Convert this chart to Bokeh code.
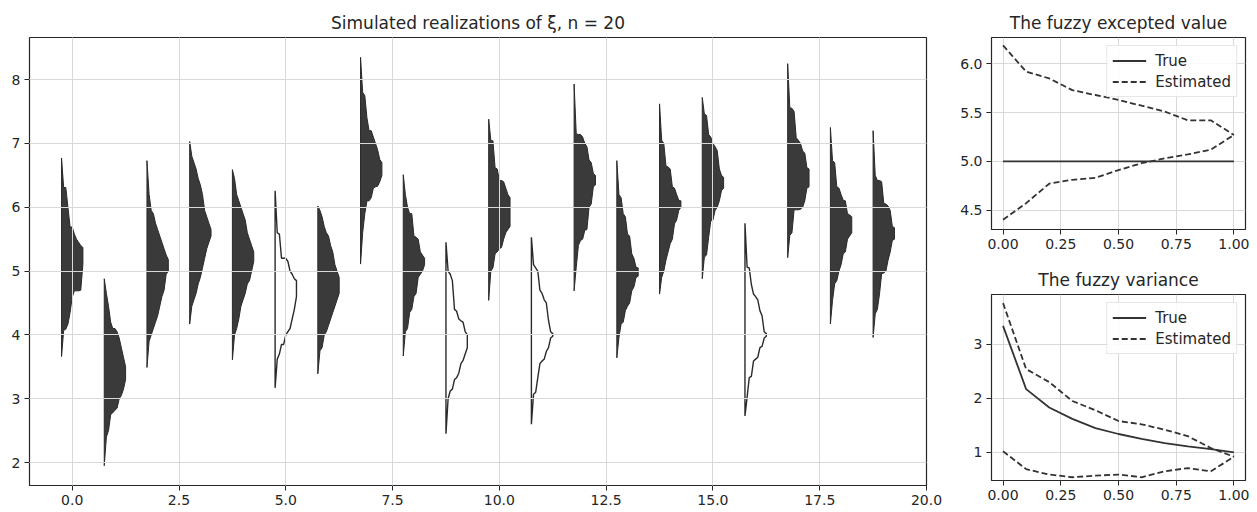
from bokeh.plotting import figure
from bokeh.layouts import row, column
from bokeh.models import Range1d, FixedTicker, Legend, LegendItem
from bokeh.embed import file_html
from bokeh.resources import INLINE

FONT = "DejaVu Sans"
INK = "#262626"
FILL = "#3a3a3a"

# ---------------- data ----------------
ALPHA = [0.0, 0.1, 0.2, 0.3, 0.4, 0.5, 0.6, 0.7, 0.8, 0.9, 1.0]

POSITIONS = [0, 1, 2, 3, 4, 5, 6, 7, 8, 9, 10, 11, 12, 13, 14, 15, 16, 17, 18, 19]
OUTLINE_ONLY = [5, 9, 11, 16]

# lower ends of the alpha-cuts of each simulated fuzzy number
LOWER = [
    [3.66, 4.07, 4.09, 4.17, 4.35, 4.59, 4.69, 4.69, 4.69, 4.70, 5.11],
    [1.95, 2.40, 2.50, 2.75, 2.78, 2.82, 2.85, 3.00, 3.05, 3.15, 3.30],
    [3.49, 3.90, 4.00, 4.10, 4.20, 4.30, 4.45, 4.60, 4.70, 4.95, 5.00],
    [4.17, 4.45, 4.55, 4.65, 4.80, 4.90, 5.05, 5.20, 5.35, 5.45, 5.55],
    [3.61, 4.00, 4.10, 4.25, 4.45, 4.55, 4.65, 4.80, 4.85, 5.00, 5.15],
    [3.17, 3.62, 3.70, 3.85, 3.85, 4.00, 4.05, 4.10, 4.25, 4.40, 4.60],
    [3.39, 3.75, 3.80, 4.00, 4.05, 4.15, 4.25, 4.35, 4.45, 4.55, 4.65],
    [5.11, 5.60, 5.90, 6.10, 6.10, 6.15, 6.30, 6.32, 6.33, 6.40, 6.50],
    [3.67, 4.05, 4.10, 4.35, 4.40, 4.60, 4.65, 4.90, 4.95, 5.00, 5.10],
    [2.45, 3.00, 3.12, 3.15, 3.30, 3.33, 3.40, 3.55, 3.60, 3.70, 3.80],
    [4.54, 5.00, 5.05, 5.27, 5.30, 5.35, 5.37, 5.50, 5.60, 5.65, 5.70],
    [2.60, 3.07, 3.10, 3.33, 3.55, 3.59, 3.62, 3.74, 3.80, 3.95, 3.98],
    [4.69, 5.06, 5.40, 5.48, 5.50, 5.64, 5.65, 6.00, 6.05, 6.32, 6.35],
    [3.64, 3.96, 4.17, 4.20, 4.38, 4.45, 4.50, 4.69, 4.75, 4.90, 4.92],
    [4.64, 4.90, 5.00, 5.17, 5.30, 5.43, 5.50, 5.74, 5.80, 5.95, 6.00],
    [4.88, 5.22, 5.25, 5.53, 5.79, 5.80, 5.95, 6.00, 6.10, 6.26, 6.30],
    [2.73, 3.02, 3.33, 3.35, 3.59, 3.62, 3.65, 3.80, 3.82, 3.95, 3.98],
    [5.21, 5.56, 5.60, 5.96, 5.96, 5.96, 5.97, 6.00, 6.10, 6.30, 6.32],
    [4.17, 4.54, 4.80, 4.85, 5.00, 5.10, 5.27, 5.30, 5.50, 5.55, 5.60],
    [3.96, 4.33, 4.40, 4.64, 4.96, 4.97, 5.00, 5.17, 5.30, 5.48, 5.50],
]
# upper ends of the alpha-cuts
UPPER = [
    [6.77, 6.31, 6.31, 6.00, 5.69, 5.69, 5.58, 5.50, 5.45, 5.40, 5.37],
    [4.88, 4.65, 4.45, 4.20, 4.10, 4.10, 4.05, 3.95, 3.80, 3.65, 3.50],
    [6.73, 6.20, 5.95, 5.90, 5.75, 5.65, 5.55, 5.45, 5.35, 5.25, 5.18],
    [7.03, 6.80, 6.70, 6.60, 6.45, 6.35, 6.20, 5.95, 5.85, 5.75, 5.65],
    [6.59, 6.45, 6.20, 6.10, 6.00, 5.90, 5.80, 5.60, 5.50, 5.40, 5.30],
    [6.26, 5.60, 5.58, 5.20, 5.20, 5.20, 5.15, 5.00, 4.95, 4.88, 4.85],
    [6.02, 5.95, 5.85, 5.70, 5.60, 5.55, 5.40, 5.30, 5.10, 5.00, 4.90],
    [8.35, 7.80, 7.75, 7.40, 7.20, 7.20, 7.10, 7.00, 6.90, 6.75, 6.70],
    [6.51, 6.20, 6.00, 5.90, 5.90, 5.55, 5.53, 5.50, 5.30, 5.25, 5.20],
    [5.45, 5.00, 4.95, 4.85, 4.40, 4.37, 4.25, 4.22, 4.20, 4.05, 4.00],
    [7.38, 7.05, 7.04, 6.62, 6.60, 6.42, 6.42, 6.40, 6.30, 6.20, 6.15],
    [5.53, 5.10, 5.05, 5.00, 4.70, 4.65, 4.55, 4.50, 4.23, 4.05, 4.02],
    [7.93, 7.15, 7.14, 7.14, 7.10, 7.00, 6.95, 6.74, 6.70, 6.53, 6.50],
    [6.73, 6.20, 6.15, 5.90, 5.85, 5.58, 5.55, 5.27, 5.20, 5.06, 5.05],
    [7.62, 7.05, 7.00, 6.65, 6.63, 6.60, 6.32, 6.30, 6.20, 6.11, 6.10],
    [7.72, 7.46, 7.44, 7.14, 7.10, 7.00, 6.95, 6.89, 6.60, 6.50, 6.47],
    [5.75, 5.06, 5.05, 4.79, 4.64, 4.60, 4.55, 4.38, 4.30, 4.05, 4.02],
    [8.25, 7.56, 7.55, 7.50, 7.09, 7.05, 7.00, 6.88, 6.85, 6.62, 6.60],
    [7.25, 6.73, 6.70, 6.32, 6.30, 6.20, 6.11, 6.10, 5.90, 5.88, 5.85],
    [7.20, 6.50, 6.42, 6.42, 6.40, 6.06, 6.05, 6.02, 5.95, 5.70, 5.68],
]

# fuzzy expected value
EV_TRUE = [5.0, 5.0, 5.0, 5.0, 5.0, 5.0, 5.0, 5.0, 5.0, 5.0, 5.0]
EV_EST_UP = [6.19, 5.92, 5.85, 5.73, 5.68, 5.63, 5.57, 5.51, 5.42, 5.42, 5.27]
EV_EST_LO = [4.40, 4.57, 4.77, 4.81, 4.83, 4.91, 4.98, 5.03, 5.07, 5.12, 5.27]

# fuzzy variance
VAR_TRUE = [3.34, 2.17, 1.83, 1.62, 1.45, 1.34, 1.25, 1.17, 1.11, 1.06, 1.00]
VAR_EST_UP = [3.76, 2.54, 2.30, 1.95, 1.78, 1.58, 1.52, 1.42, 1.30, 1.08, 0.92]
VAR_EST_LO = [1.02, 0.69, 0.59, 0.54, 0.57, 0.59, 0.54, 0.65, 0.71, 0.65, 0.92]

MAIN_XTICKS = [0, 2.5, 5, 7.5, 10, 12.5, 15, 17.5, 20]
MAIN_XLABELS = ["0.0", "2.5", "5.0", "7.5", "10.0", "12.5", "15.0", "17.5", "20.0"]
MAIN_YTICKS = [2, 3, 4, 5, 6, 7, 8]
MAIN_YLABELS = ["2", "3", "4", "5", "6", "7", "8"]
SIDE_XTICKS = [0, 0.25, 0.5, 0.75, 1.0]
SIDE_XLABELS = ["0.00", "0.25", "0.50", "0.75", "1.00"]
EV_YTICKS = [4.5, 5.0, 5.5, 6.0]
EV_YLABELS = ["4.5", "5.0", "5.5", "6.0"]
VAR_YTICKS = [1, 2, 3]
VAR_YLABELS = ["1", "2", "3"]

OFFSET = -0.25   # left edge of each fuzzy number relative to its index
HALF = 0.5       # horizontal extent for membership 1


def style(p, xticks, xlabels, yticks, ylabels, grid_level):
    p.title.text_font = FONT
    p.title.text_font_size = "17px"
    p.title.text_font_style = "normal"
    p.title.text_color = INK
    p.title.align = "center"
    p.outline_line_color = INK
    p.outline_line_width = 1.2
    p.background_fill_color = "white"
    p.border_fill_color = "white"
    for ax, ticks, labels in ((p.xaxis[0], xticks, xlabels), (p.yaxis[0], yticks, ylabels)):
        ax.ticker = FixedTicker(ticks=ticks)
        ax.major_label_overrides = {t: l for t, l in zip(ticks, labels)}
        ax.axis_line_color = None
        ax.major_tick_line_color = INK
        ax.major_tick_out = 5
        ax.major_tick_in = 0
        ax.minor_tick_line_color = None
        ax.major_label_text_font = FONT
        ax.major_label_text_font_size = "14px"
        ax.major_label_text_color = INK
        ax.major_label_standoff = 4
    for g in (p.xgrid[0], p.ygrid[0]):
        g.grid_line_color = "#d9d9d9"
        g.grid_line_width = 1
        g.level = grid_level


# ---------------- main panel ----------------
main = figure(width=944, height=512, output_backend="svg", toolbar_location=None,
              x_range=Range1d(-1.0, 20.0), y_range=Range1d(1.64, 8.66),
              title="Simulated realizations of \u03be, n = 20",
              min_border_left=29, min_border_right=18, min_border_top=37, min_border_bottom=27)
style(main, MAIN_XTICKS, MAIN_XLABELS, MAIN_YTICKS, MAIN_YLABELS, "overlay")

fill_xs, fill_ys, open_xs, open_ys = [], [], [], []
for idx, lo, up in zip(POSITIONS, LOWER, UPPER):
    x0 = idx + OFFSET
    # left side (support), then right membership edge from bottom to top
    xs = [x0] + [x0 + HALF * a for a in ALPHA] + [x0 + HALF * a for a in reversed(ALPHA)]
    ys = [lo[0]] + list(lo) + list(reversed(up))
    if idx in OUTLINE_ONLY:
        open_xs.append(xs); open_ys.append(ys)
    else:
        fill_xs.append(xs); fill_ys.append(ys)

main.patches(fill_xs, fill_ys, fill_color=FILL, line_color="#2a2a2a", line_width=1)
main.patches(open_xs, open_ys, fill_alpha=0, line_color="#2a2a2a", line_width=1.4)


# ---------------- side panels ----------------
def side(title, h, top, bottom, yr, yticks, ylabels, true, up, lo):
    p = figure(width=313, height=h, output_backend="svg", toolbar_location=None,
               x_range=Range1d(-0.05, 1.05), y_range=Range1d(*yr), title=title,
               min_border_left=47, min_border_right=12, min_border_top=top,
               min_border_bottom=bottom)
    style(p, SIDE_XTICKS, SIDE_XLABELS, yticks, ylabels, "underlay")
    r_true = p.line(ALPHA, true, line_color="#333333", line_width=1.8)
    r_up = p.line(ALPHA, up, line_color="#333333", line_width=1.8, line_dash="6 3")
    p.line(ALPHA, lo, line_color="#333333", line_width=1.8, line_dash="6 3")
    leg = Legend(items=[LegendItem(label="True", renderers=[r_true]),
                        LegendItem(label="Estimated", renderers=[r_up])],
                 location="top_right")
    leg.label_text_font = FONT
    leg.label_text_font_size = "15px"
    leg.label_text_color = INK
    leg.border_line_color = "#d0d0d0"
    leg.background_fill_alpha = 0.85
    leg.glyph_width = 34
    leg.glyph_height = 19
    leg.label_height = 19
    leg.label_standoff = 9
    leg.spacing = 2
    leg.padding = 5
    leg.margin = 8
    p.add_layout(leg)
    return p


ev = side("The fuzzy excepted value", 262, 37, 33, (4.30, 6.27),
          EV_YTICKS, EV_YLABELS, EV_TRUE, EV_EST_UP, EV_EST_LO)
var = side("The fuzzy variance", 250, 31, 32, (0.48, 3.92),
           VAR_YTICKS, VAR_YLABELS, VAR_TRUE, VAR_EST_UP, VAR_EST_LO)

layout = row(main, column(ev, var))
open("out.html", "w").write(file_html(layout, INLINE))
